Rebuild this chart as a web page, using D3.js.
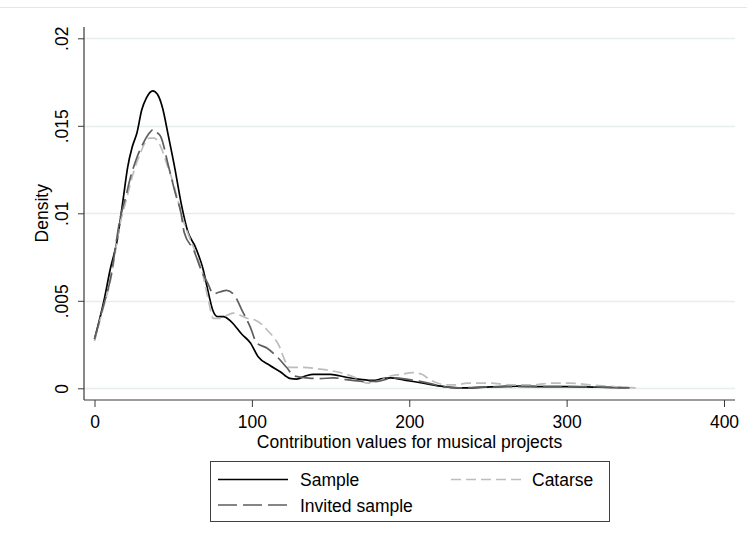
<!DOCTYPE html>
<html><head><meta charset="utf-8">
<script src="https://cdn.jsdelivr.net/npm/d3@7"></script>
<style>
body{margin:0;background:#fff}
svg{display:block}
text{font-family:"Liberation Sans",Arial,sans-serif;fill:#000}
</style>
</head><body><svg id="c" width="747" height="542"></svg>
<script>
const seriesNames = ["Sample", "Catarse", "Invited sample"];

const sampleX = [0, 6, 10, 14.5, 18.5, 21, 24, 27, 30, 33, 37, 40, 43, 47, 51, 55, 59.5, 64, 69, 73, 75, 78, 82, 87, 93.5, 99, 104, 111.5, 118, 124, 128.5, 134, 139, 150, 160, 169, 177, 183, 188, 197, 209, 222, 232, 245, 258, 270, 285, 300, 320, 340];
const sampleY = [.0028, .0050, .0068, .0085, .0110, .0126, .0138, .0146, .0159, .0166, .0170, .0168, .0161, .0144, .0126, .0106, .0089, .0081, .0068, .0052, .0045, .0041, .0041, .0038, .0031, .0026, .0018, .0013, .00095, .00057, .00053, .0007, .0008, .0008, .00063, .00051, .00045, .00055, .0006, .00047, .00029, .0001, .00002, .00005, .0001, .00013, .0001, .0001, .00006, .00003];

const invitedX = [0, 5, 10, 16.5, 20, 23, 27, 31.5, 35, 37.5, 40, 42, 47, 51.5, 55, 57, 63, 68.5, 72, 75.5, 79.5, 84, 89, 93.5, 99, 103, 109.5, 116, 122, 127, 135, 143, 152, 160, 170, 180, 190, 200, 212, 222, 232, 250, 270, 290, 310, 330, 340];
const invitedY = [.0028, .0045, .0062, .0098, .0110, .0121, .0132, .0141, .0146, .0148, .0146, .0144, .0127, .0111, .0100, .0089, .0079, .0066, .0060, .0054, .0055, .0056, .0053, .0045, .0035, .0026, .0023, .0018, .0012, .0007, .0006, .00055, .0006, .0005, .0004, .0004, .0006, .0005, .0003, .0001, .00003, .00008, .0001, .0001, .0001, .00005, .00003];

const catarseX = [0, 5, 10, 16.5, 20, 25, 29, 32.5, 35, 38, 41, 43, 46, 49.5, 52.5, 56, 60, 64, 68, 72, 75.5, 80, 85, 88, 92, 97, 102, 107, 110, 114, 118, 120, 124, 130, 143, 160, 166, 173, 180, 188, 195, 202, 208, 213, 218, 222, 230, 237, 250, 265, 280, 290, 302, 315, 330, 344];
const catarseY = [.0027, .0044, .0061, .0095, .0107, .0124, .0134, .0141, .0143, .0143, .0140, .0136, .0128, .0119, .0109, .0097, .0087, .0078, .0068, .0052, .0040, .0040, .0042, .0043, .0042, .0040, .0039, .0036, .0033, .0029, .0023, .0018, .0012, .0012, .0011, .0008, .0006, .0003, .0004, .0007, .0008, .0009, .0008, .0005, .0003, .0002, .0002, .0003, .0003, .0002, .0002, .0003, .0003, .0002, .0001, .00002];

const xTicks = [0, 100, 200, 300, 400];
const yTicks = [0, 0.005, 0.01, 0.015, 0.02];
const yTickLabels = ["0", ".005", ".01", ".015", ".02"];
const xTitle = "Contribution values for musical projects";
const yTitle = "Density";

const FS = "17.5px";
const svg = d3.select("#c");
const plotL = 84, plotR = 735, plotT = 27, plotB = 400;
const x = d3.scaleLinear().domain([0, 400]).range([94.5, 724]);
const y = d3.scaleLinear().domain([0, 0.02]).range([388.3, 38.3]);

// outer graph border (top edge visible)
svg.append("line").attr("x1", 0).attr("x2", 747).attr("y1", 7.5).attr("y2", 7.5)
  .attr("stroke", "#e6e6e6").attr("stroke-width", 1);

// gridlines
svg.append("g").selectAll("line").data(yTicks).join("line")
  .attr("x1", plotL).attr("x2", plotR)
  .attr("y1", d => Math.round(y(d)) + 0.5).attr("y2", d => Math.round(y(d)) + 0.5)
  .attr("stroke", "#e6eef0").attr("stroke-width", 1.5);

// axes
const axisColor = "#3a3a3a";
const gy = svg.append("g").attr("transform", `translate(${plotL},0)`).style("color", axisColor)
  .call(d3.axisLeft(y).tickValues(yTicks).tickFormat((d, i) => yTickLabels[i]).tickSize(6).tickSizeOuter(0));
gy.select(".domain").remove();
gy.selectAll("text").attr("transform", "rotate(-90)").attr("x", 0).attr("y", -16).attr("dy", 0)
  .attr("text-anchor", "middle").style("font-size", FS).style("font-family", '"Liberation Sans",Arial,sans-serif').attr("fill", "#000");
svg.append("line").attr("x1", plotL).attr("x2", plotL).attr("y1", plotT).attr("y2", plotB)
  .attr("stroke", axisColor).attr("stroke-width", 1.2);

const gx = svg.append("g").attr("transform", `translate(0,${plotB})`).style("color", axisColor)
  .call(d3.axisBottom(x).tickValues(xTicks).tickFormat(d3.format("d")).tickSize(7).tickSizeOuter(0));
gx.select(".domain").remove();
gx.selectAll("text").attr("y", 28).attr("dy", 0).style("font-size", FS)
  .style("font-family", '"Liberation Sans",Arial,sans-serif').attr("fill", "#000");
svg.append("line").attr("x1", plotL).attr("x2", plotR).attr("y1", plotB).attr("y2", plotB)
  .attr("stroke", axisColor).attr("stroke-width", 1.2);

// titles
svg.append("text").attr("x", (plotL + plotR) / 2).attr("y", 448).attr("text-anchor", "middle")
  .style("font-size", FS).text(xTitle);
svg.append("text").attr("transform", `translate(48,${y(0.01)}) rotate(-90)`).attr("text-anchor", "middle")
  .style("font-size", FS).text(yTitle);

// series
const line = d3.line().x(d => x(d[0])).y(d => y(d[1])).curve(d3.curveMonotoneX);
const series = [
  { name: seriesNames[0], xs: sampleX, ys: sampleY, color: "#000000", dash: null, w: 1.7 },
  { name: seriesNames[1], xs: catarseX, ys: catarseY, color: "#bdbdbd", dash: "10,5", w: 1.7 },
  { name: seriesNames[2], xs: invitedX, ys: invitedY, color: "#5e5e5e", dash: "19,6", w: 1.7 }
];
svg.append("g").selectAll("path").data(series).join("path")
  .attr("d", s => line(s.xs.map((v, i) => [v, s.ys[i]])))
  .attr("fill", "none").attr("stroke", s => s.color).attr("stroke-width", s => s.w)
  .attr("stroke-dasharray", s => s.dash).attr("stroke-linejoin", "round");

// legend
const lg = svg.append("g");
lg.append("rect").attr("x", 210.5).attr("y", 461.5).attr("width", 399).attr("height", 60)
  .attr("fill", "#fff").attr("stroke", "#404040").attr("stroke-width", 1);
const legPos = [
  { lx: 218, tx: 300, y: 479.5, ty: 486 },
  { lx: 451, tx: 532, y: 479.5, ty: 486 },
  { lx: 218, tx: 300, y: 505, ty: 512 }
];
series.forEach((s, i) => {
  const p = legPos[i];
  lg.append("line").attr("x1", p.lx).attr("x2", p.lx + 70).attr("y1", p.y).attr("y2", p.y)
    .attr("stroke", s.color).attr("stroke-width", s.w).attr("stroke-dasharray", s.dash);
  lg.append("text").attr("x", p.tx).attr("y", p.ty).style("font-size", FS).text(s.name);
});
</script>
</body></html>
